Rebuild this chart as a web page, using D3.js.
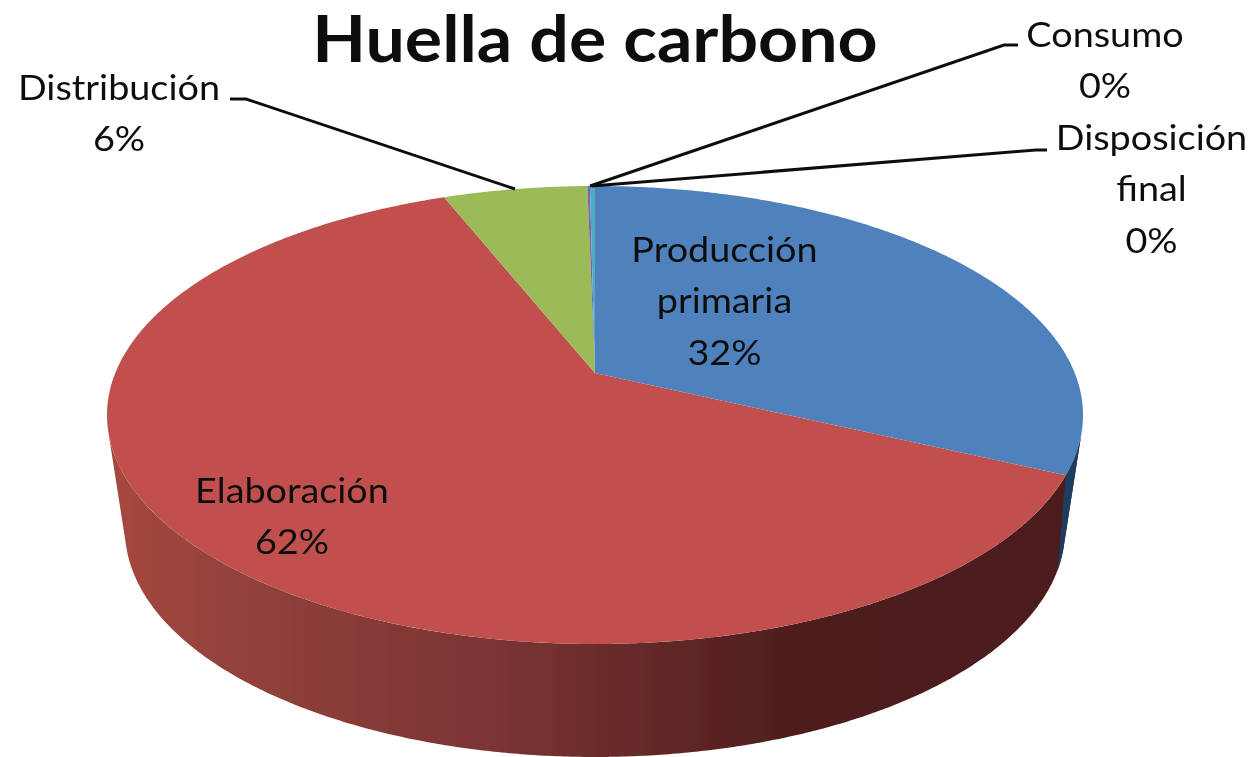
<!DOCTYPE html>
<html><head><meta charset="utf-8">
<script src="https://cdn.jsdelivr.net/npm/d3@7/dist/d3.min.js"></script>
<style>html,body{margin:0;padding:0;background:#fff}svg{display:block}text{font-family:Lato,"Open Sans",sans-serif;fill:#111}</style>
</head><body><svg id="c" width="1254" height="757"></svg>
<script>
const categories=["Producción primaria","Elaboración","Distribución","Consumo","Disposición final"];
const values=[32,62,5.7,0.1,0.2];
const colors=["#4f81bd","#c0504d","#9bbb59","#8064a2","#4bacc6"];
const labelLines=[["Producción","primaria","32%"],["Elaboración","62%"],["Distribución","6%"],["Consumo","0%"],["Disposición","final","0%"]];
const titleText="Huella de carbono";
const svg=d3.select("#c");
const defs=svg.append("defs");
defs.append("filter").attr("id","soft").attr("x",0).attr("y",0).attr("width",1).attr("height",1).attr("filterUnits","objectBoundingBox")
  .append("feGaussianBlur").attr("stdDeviation",0.6);
const root=svg.append("g").attr("filter","url(#soft)");
root.append("rect").attr("width",1254).attr("height",757).attr("fill","#fff");
const cx=595,topE={cy:415,rx:488,ry:229,t:0.183},botE={cy:530,rx:470,ry:227,t:0.27};
const pie=d3.pie().sort(null).value(d=>d)(values);
// perspective map of the pie disc on to an ellipse: the pivot sits above the ellipse centre
function P(a,E){const u=Math.sin(a),v=Math.cos(a),d=1+E.t*v;
 return [cx+E.rx*u*Math.sqrt(1-E.t*E.t)/d,E.cy-E.ry*(v+E.t)/d];}
const H=(th,E)=>[cx+E.rx*Math.sin(th),E.cy-E.ry*Math.cos(th)];
const thetaOf=(p,E)=>{const th=Math.atan2((p[0]-cx)/E.rx,(E.cy-p[1])/E.ry);return th<0?th+2*Math.PI:th;};
const pivot=[cx,topE.cy-topE.ry*topE.t];
const steps=(a0,a1)=>{const n=Math.max(2,Math.ceil(Math.abs(a1-a0)*120));return d3.range(n+1).map(i=>a0+(a1-a0)*i/n);};
const line=d3.line();
const g=defs.append("linearGradient").attr("id","side").attr("gradientUnits","userSpaceOnUse").attr("x1",108).attr("x2",1083).attr("y1",0).attr("y2",0);
[[0,"#a8473f"],[0.12,"#94423c"],[0.4,"#7a3433"],[0.7,"#4f1e1e"],[1,"#4c1c1c"]].forEach(s=>g.append("stop").attr("offset",s[0]).attr("stop-color",s[1]));
// side wall: silhouette joins the two ellipses at equal ellipse angle (front-facing range only)
function wall(th0,thTop,thBot,fill){const as=steps(th0,thTop);let dd="";
 for(let i=0;i<as.length-1;i++){dd+=line([H(as[i],topE),H(as[i+1],topE),H(Math.min(as[i+1],thBot),botE),H(Math.min(as[i],thBot),botE)])+"Z";}
 root.append("path").attr("d",dd).attr("fill",fill).attr("fill-rule","nonzero");}
const rad=d=>d*Math.PI/180, thR=rad(94.2), thL=rad(265.8);
wall(thR,thL,thL,"url(#side)");
wall(thR,thetaOf(P(pie[0].endAngle,topE),topE),thetaOf(P(pie[0].endAngle,botE),botE),"#1f3d60");
pie.forEach((d,i)=>{root.append("path").attr("d",line([pivot].concat(steps(d.startAngle,d.endAngle).map(a=>P(a,topE))))+"Z").attr("fill",colors[i]);});
const xsT=1.075,xsL=1.08;
root.append("text").text(titleText).attr("transform",`scale(${xsT},1)`).attr("x",595/xsT).attr("y",62).attr("text-anchor","middle").style("font-size","65px").style("font-weight","700");
const labelPos=[[724.5,250],[292,491],[119,88],[1105,35],[1151.5,138]];
labelLines.forEach((ls,i)=>{const t=root.append("text").attr("transform",`scale(${xsL},1)`).attr("text-anchor","middle").style("font-size","35px");
 ls.forEach((s,j)=>t.append("tspan").attr("x",labelPos[i][0]/xsL).attr("y",labelPos[i][1]+12+j*51.5).text(s));});
const leaders=[[[230,99],[246,99],[515,189]],[[1018,45],[1004,45],[590,186]],[[1047,150],[1036,150],[592,186]]];
leaders.forEach(l=>root.append("path").attr("d",line(l)).attr("fill","none").attr("stroke","#111").attr("stroke-width",3));
</script></body></html>
